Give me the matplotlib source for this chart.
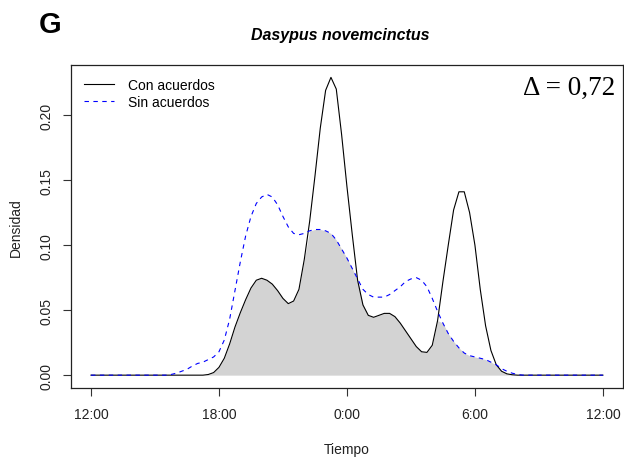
import matplotlib
matplotlib.use("Agg")
import matplotlib.pyplot as plt
import numpy as np

# Activity density curves (hours, noon to noon), overlap shaded
hours = [12.0, 15.5, 15.75, 16.0, 16.25, 16.5, 16.75, 17.0, 17.25, 17.5, 17.75,
         18.0, 18.25, 18.5, 18.75, 19.0, 19.25, 19.5, 19.75, 20.0, 20.25,
         20.5, 20.75, 21.0, 21.25, 21.5, 21.75, 22.0, 22.25, 22.5, 22.75,
         23.0, 23.25, 23.5, 23.75, 24.0, 24.25, 24.5, 24.75, 25.0, 25.25,
         25.5, 25.75, 26.0, 26.25, 26.5, 26.75, 27.0, 27.25, 27.5, 27.75,
         28.0, 28.25, 28.5, 28.75, 29.0, 29.25, 29.5, 29.75, 30.0, 30.25,
         30.5, 30.75, 31.0, 31.25, 31.5, 31.75, 32.0, 32.25, 36.0]

con_acuerdos = [0.0, 0.0, 0.0, 0.0, 0.0, 0.0, 0.0, 0.0, 0.0, 0.0005, 0.002,
                0.006, 0.013, 0.024, 0.037, 0.048, 0.058, 0.067, 0.073, 0.0745, 0.073,
                0.070, 0.065, 0.059, 0.055, 0.057, 0.066, 0.089, 0.118, 0.153, 0.190,
                0.219, 0.229, 0.220, 0.185, 0.145, 0.108, 0.073, 0.054, 0.046, 0.0445,
                0.046, 0.0475, 0.0475, 0.045, 0.040, 0.034, 0.028, 0.022, 0.018, 0.0175,
                0.023, 0.042, 0.072, 0.100, 0.127, 0.141, 0.141, 0.125, 0.100, 0.066,
                0.038, 0.019, 0.008, 0.003, 0.001, 0.0003, 0.0, 0.0, 0.0]

sin_acuerdos = [0.0, 0.0, 0.0005, 0.0015, 0.003, 0.0045, 0.007, 0.009, 0.010, 0.012, 0.014,
                0.018, 0.027, 0.043, 0.065, 0.087, 0.107, 0.122, 0.132, 0.137, 0.139,
                0.137, 0.131, 0.122, 0.114, 0.109, 0.108, 0.109, 0.111, 0.112, 0.112,
                0.111, 0.109, 0.104, 0.097, 0.090, 0.082, 0.074, 0.066, 0.062, 0.060,
                0.060, 0.060, 0.062, 0.065, 0.068, 0.072, 0.074, 0.075, 0.073, 0.068,
                0.059, 0.049, 0.040, 0.032, 0.026, 0.021, 0.017, 0.015, 0.014, 0.013,
                0.012, 0.010, 0.008, 0.005, 0.003, 0.0015, 0.0005, 0.0, 0.0]

tick_hours = [12, 18, 24, 30, 36]
tick_labels = ["12:00", "18:00", "0:00", "6:00", "12:00"]
y_ticks = [0.00, 0.05, 0.10, 0.15, 0.20]
delta = "0,72"

x = np.array(hours)
k = np.array(con_acuerdos)
b = np.array(sin_acuerdos)

plt.rcParams["font.family"] = ["Liberation Sans", "DejaVu Sans"]
txt = "#222222"

fig = plt.figure(figsize=(6.24, 4.6), dpi=100)
ax = fig.add_axes([0.113, 0.154, 0.886, 0.7025])

ax.fill_between(x, 0, np.minimum(k, b), color="#d3d3d3", lw=0, zorder=1)
ax.plot(x, k, color="black", lw=0.8, zorder=2, label="Con acuerdos")
ax.plot(x, b, color="blue", lw=0.8, linestyle=(0, (4, 4)), zorder=3,
        label="Sin acuerdos")

ax.set_xlim(11.04, 36.96)
ax.set_ylim(-0.01, 0.2385)
ax.set_xticks(tick_hours)
ax.set_xticklabels(tick_labels)
ax.set_yticks(y_ticks)
ax.set_yticklabels([f"{v:.2f}" for v in y_ticks], rotation=90, va="center")
ax.tick_params(axis="both", direction="out", length=5.5, width=0.8,
               color="#333333", labelsize=10, labelcolor=txt)
ax.tick_params(axis="x", pad=8)
ax.tick_params(axis="y", pad=7)
for s in ax.spines.values():
    s.set_linewidth(0.9)
    s.set_color(txt)

ax.set_xlabel("Tiempo", fontsize=10, color=txt, labelpad=15)
ax.set_ylabel("Densidad", fontsize=10, color=txt, labelpad=12)

ax.legend(loc="upper left", frameon=False, fontsize=10, handlelength=2.2,
          handletextpad=1.0, borderaxespad=0.55, labelspacing=0.2)

ax.text(0.985, 0.93, f"\u0394 = {delta}", transform=ax.transAxes, ha="right",
        va="center", fontsize=19.5, family=["Liberation Serif", "DejaVu Serif"])

fig.text(0.545, 0.922, "Dasypus novemcinctus", ha="center", va="center",
         fontsize=11.5, fontweight="bold", fontstyle="italic")
fig.text(0.062, 0.928, "G", ha="left", va="baseline", fontsize=21,
         fontweight="bold")

fig.savefig("out.png", dpi=100)
